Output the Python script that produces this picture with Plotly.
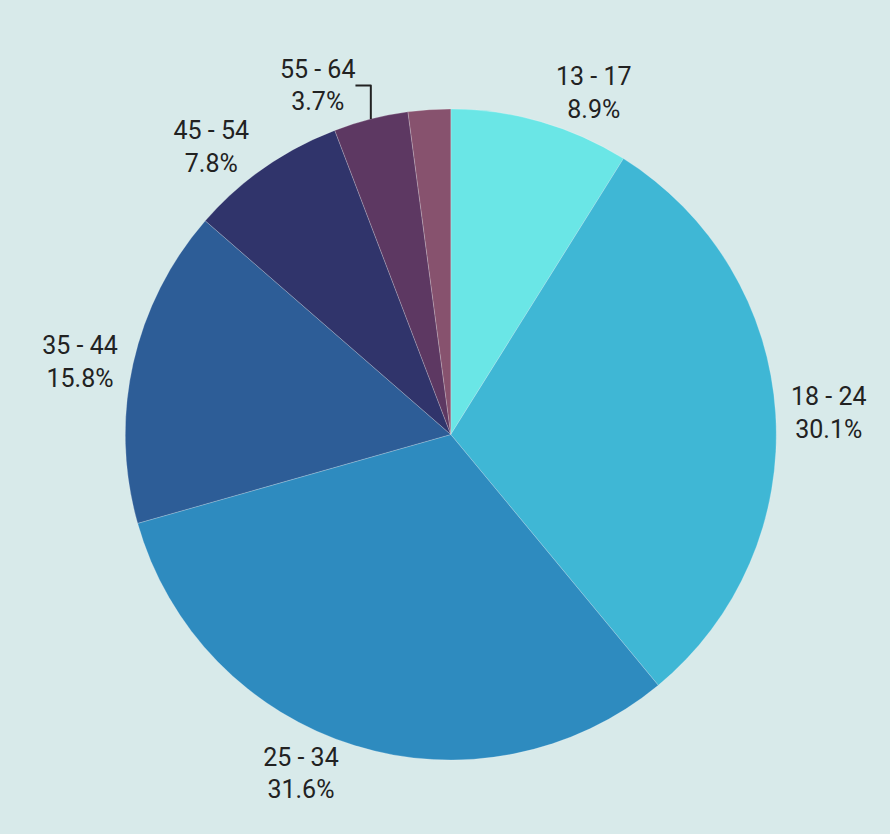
import plotly.graph_objects as go

# data
age_groups = ["13 - 17", "18 - 24", "25 - 34", "35 - 44", "45 - 54", "55 - 64", "65+"]
shares = [8.9, 30.1, 31.6, 15.8, 7.8, 3.7, 2.1]
show_label = [True, True, True, True, True, True, False]

COLORS = ["#6ae6e6", "#3fb7d5", "#2e8bbf", "#2d5d97", "#30346b", "#5d3862", "#87526e"]
BG = "#d8eaea"

texts = [f"{a}<br>{s:.1f}%" if ok else "" for a, s, ok in zip(age_groups, shares, show_label)]

fig = go.Figure(
    go.Pie(
        labels=age_groups,
        values=shares,
        text=texts,
        textinfo="text",
        textposition="outside",
        sort=False,
        direction="clockwise",
        rotation=0,
        automargin=False,
        domain=dict(x=[0.135, 0.878], y=[0.0887, 0.8693]),
        marker=dict(colors=COLORS, line=dict(color="rgba(255,255,255,0.35)", width=0.6)),
        outsidetextfont=dict(family="Roboto", size=25, color="#222222"),
        hoverinfo="label+percent",
        showlegend=False,
    )
)

fig.update_layout(
    width=890,
    height=834,
    paper_bgcolor=BG,
    plot_bgcolor=BG,
    margin=dict(l=0, r=0, t=0, b=0),
    font=dict(family="Roboto", size=25, color="#222222"),
)

# drop the default page margin so the figure fills the window
fig.write_html(
    "out.html",
    config={"displayModeBar": False},
    post_script="document.body.style.margin='0';document.body.style.background='%s';" % BG,
)
